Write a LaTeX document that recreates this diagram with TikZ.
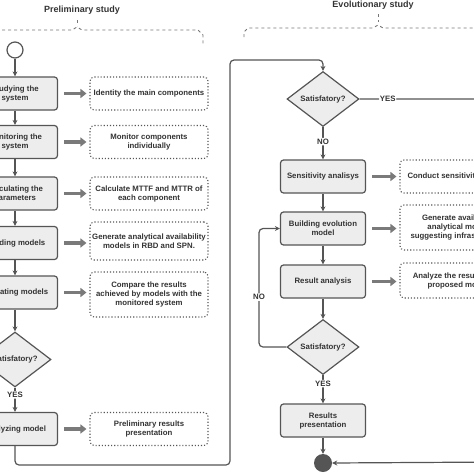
\documentclass[tikz,border=0pt]{standalone}
\usepackage{fontspec}
\setmainfont{Liberation Sans}
\usetikzlibrary{shapes.geometric,arrows.meta}
\definecolor{linegray}{HTML}{555555}
\definecolor{boxgray}{HTML}{EDEDED}
\definecolor{arrowgray}{HTML}{7A7A7A}
\definecolor{textgray}{HTML}{333333}
\begin{document}
\begin{tikzpicture}[x=1pt,y=-1pt,
  font=\fontsize{7.8}{9}\selectfont\bfseries, text=textgray,
  mainbox/.style={draw=linegray, line width=1.2pt, fill=boxgray, rounded corners=3pt,
    minimum width=85pt, minimum height=33pt, align=center, inner sep=1pt},
  descbox/.style={draw=linegray, line width=1.1pt, dotted, fill=white, rounded corners=4pt,
    minimum width=118pt, minimum height=33pt, align=center, inner sep=1pt},
  decision/.style={diamond, draw=linegray, line width=1.2pt, fill=boxgray,
    minimum width=72pt, minimum height=55pt, inner sep=0pt},
  flow/.style={draw=linegray, line width=1.2pt, -{Stealth[length=5pt,width=5pt]}, rounded corners=4pt},
  bigarrow/.style={draw=arrowgray, line width=3.5pt, -{Triangle[length=6pt,width=9pt]},
    shorten <=6pt, shorten >=3pt},
  brace/.style={draw=linegray!80, line width=0.9pt, dashed}]
\useasboundingbox (0,0) rectangle (474,474);
\node (prelim) at (82,10) {\fontsize{9}{10}\selectfont Preliminary study};
\node (evol) at (373,5) {\fontsize{9}{10}\selectfont Evolutionary study};
\draw [brace] (-10,30) -- (72,30) -- (77,27) -- (82,30) -- (198,30) -- (203,35) -- (203,44);
\draw [brace] (77,20) -- (77,26);
\draw [brace] (244,37) -- (244,32) -- (248,28) -- (373,28) -- (378,25) -- (383,28) -- (480,28);
\draw [brace] (378,14) -- (378,22);
\node [circle, draw=linegray, line width=1.2pt, fill=white, minimum size=16pt, inner sep=0pt] (start) at (15,50) {};
\node [mainbox] (study) at (15,93.5) {Studying the\\system};
\node [mainbox] (monitor) at (15,142) {Monitoring the\\system};
\node [mainbox] (calc) at (15,193.5) {Calculating the\\parameters};
\node [mainbox] (build) at (15,243) {Building models};
\node [mainbox] (valid) at (15,292.5) {Validating models};
\node [decision] (check_1) at (15,359.5) {Satisfatory?};
\node [mainbox] (analyze) at (15,429) {Analyzing model};
\node [descbox] (d_study) at (149,93.5) {Identity the main components};
\node [descbox] (d_monitor) at (149,142) {Monitor components\\individually};
\node [descbox] (d_calc) at (149,193.5) {Calculate MTTF and MTTR of\\each component};
\node [descbox, minimum height=38pt] (d_build) at (149,241) {Generate analytical availability\\models in RBD and SPN.};
\node [descbox, minimum height=45pt] (d_valid) at (149,294.5) {Compare the results\\achieved by models with the\\monitored system};
\node [descbox] (d_analyze) at (149,429) {Preliminary results\\presentation};
\node [decision] (check_2) at (323,99) {Satisfatory?};
\node [mainbox] (sens) at (323,176.5) {Sensitivity analisys};
\node [mainbox] (evmodel) at (323,228.5) {Building evolution\\model};
\node [mainbox] (result) at (323,281.5) {Result analysis};
\node [decision] (check_3) at (323,347) {Satisfatory?};
\node [mainbox] (present) at (323,420.5) {Results\\presentation};
\node [circle, fill=linegray, minimum size=18pt, inner sep=0pt] (finish) at (323,463) {};
\node [descbox, minimum width=120pt] (d_sens) at (460,176.5) {Conduct sensitivity analysis};
\node [descbox, minimum width=120pt, minimum height=45pt] (d_evmodel) at (460,227.5) {Generate availability\\analytical models\\suggesting infrastructures};
\node [descbox, minimum width=120pt, minimum height=35pt] (d_result) at (460,280.5) {Analyze the results of the\\proposed models};
\draw [flow] (start) -- (study);
\draw [flow] (study) -- (monitor);
\draw [flow] (monitor) -- (calc);
\draw [flow] (calc) -- (build);
\draw [flow] (build) -- (valid);
\draw [flow] (valid) -- (check_1);
\draw [flow] (check_1) -- node [pos=0.3, fill=white, inner sep=1pt] {YES} (analyze);
\draw [flow] (analyze.south) -- (15,465) -- (230,465) -- (230,60) -- (323,60) -- (check_2.north);
\draw [flow] (check_2) -- node [pos=0.45, fill=white, inner sep=1pt] {NO} (sens);
\draw [flow] (check_2.east) -- node [pos=0.2, fill=white, inner sep=1pt] {YES} (500,99) -- (500,462) -- (finish.east);
\draw [flow] (sens) -- (evmodel);
\draw [flow] (evmodel) -- (result);
\draw [flow] (result) -- (check_3);
\draw [flow] (check_3) -- node [pos=0.3, fill=white, inner sep=1pt] {YES} (present);
\draw [flow] (present) -- (finish);
\draw [flow] (check_3.west) -- (259,347) -- node [pos=0.42, fill=white, inner sep=1pt] {NO} (259,228.5) -- (evmodel.west);
\draw [bigarrow] (study) -- (d_study);
\draw [bigarrow] (monitor) -- (d_monitor);
\draw [bigarrow] (calc) -- (d_calc);
\draw [bigarrow] (build.east) -- (d_build.west |- build.east);
\draw [bigarrow] (valid.east) -- (d_valid.west |- valid.east);
\draw [bigarrow] (analyze) -- (d_analyze);
\draw [bigarrow] (sens) -- (d_sens);
\draw [bigarrow] (evmodel.east) -- (d_evmodel.west |- evmodel.east);
\draw [bigarrow] (result.east) -- (d_result.west |- result.east);
\end{tikzpicture}
\end{document}
